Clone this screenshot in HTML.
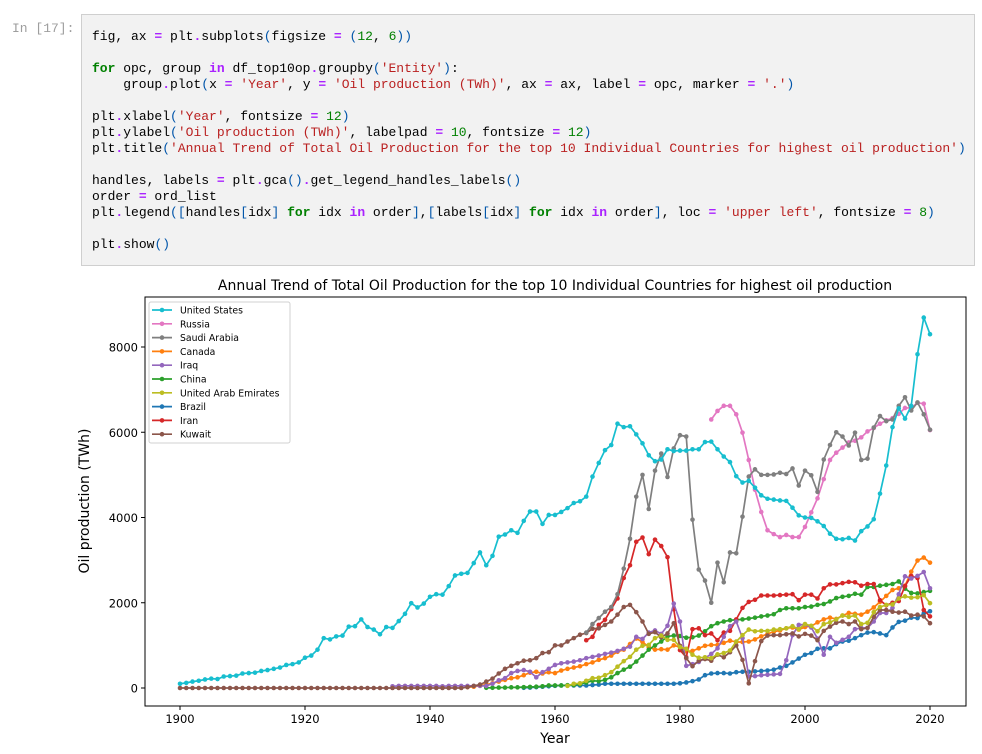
<!DOCTYPE html>
<html><head><meta charset="utf-8"><style>
body{margin:0;background:#fff;width:982px;height:754px;overflow:hidden;position:relative;font-family:"Liberation Sans",sans-serif}
.prompt{position:absolute;left:12px;top:21px;font:13px "Liberation Mono",monospace;color:#9e9e9e}
.cell{position:absolute;left:81px;top:14px;width:892px;height:250px;background:#f2f2f2;border:1px solid #cfcfcf}
pre{margin:0;position:absolute;left:10px;top:14px;font:13px/16px "Liberation Mono",monospace;color:#000}
.k{color:#008000;font-weight:bold}.s{color:#ba2121}.o{color:#aa22ff;font-weight:bold}.n{color:#008000}.p{color:#0055aa}
</style></head><body>
<div class="prompt">In [17]:</div>
<div class="cell"><pre>fig, ax <span class="o">=</span> plt<span class="o">.</span>subplots<span class="p">(</span>figsize <span class="o">=</span> <span class="p">(</span><span class="n">12</span>, <span class="n">6</span><span class="p">))</span>

<span class="k">for</span> opc, group <span class="o">in</span> df_top10op<span class="o">.</span>groupby<span class="p">(</span><span class="s">'Entity'</span><span class="p">)</span>:
    group<span class="o">.</span>plot<span class="p">(</span>x <span class="o">=</span> <span class="s">'Year'</span>, y <span class="o">=</span> <span class="s">'Oil production (TWh)'</span>, ax <span class="o">=</span> ax, label <span class="o">=</span> opc, marker <span class="o">=</span> <span class="s">'.'</span><span class="p">)</span>

plt<span class="o">.</span>xlabel<span class="p">(</span><span class="s">'Year'</span>, fontsize <span class="o">=</span> <span class="n">12</span><span class="p">)</span>
plt<span class="o">.</span>ylabel<span class="p">(</span><span class="s">'Oil production (TWh)'</span>, labelpad <span class="o">=</span> <span class="n">10</span>, fontsize <span class="o">=</span> <span class="n">12</span><span class="p">)</span>
plt<span class="o">.</span>title<span class="p">(</span><span class="s">'Annual Trend of Total Oil Production for the top 10 Individual Countries for highest oil production'</span><span class="p">)</span>

handles, labels <span class="o">=</span> plt<span class="o">.</span>gca<span class="p">()</span><span class="o">.</span>get_legend_handles_labels<span class="p">()</span>
order <span class="o">=</span> ord_list
plt<span class="o">.</span>legend<span class="p">([</span>handles<span class="p">[</span>idx<span class="p">]</span> <span class="k">for</span> idx <span class="o">in</span> order<span class="p">]</span>,<span class="p">[</span>labels<span class="p">[</span>idx<span class="p">]</span> <span class="k">for</span> idx <span class="o">in</span> order<span class="p">]</span>, loc <span class="o">=</span> <span class="s">'upper left'</span>, fontsize <span class="o">=</span> <span class="n">8</span><span class="p">)</span>

plt<span class="o">.</span>show<span class="p">()</span></pre></div>
<svg id="chart" style="position:absolute;left:0;top:0" width="982" height="754"></svg>
<script>
const years0 = 1900;
const xTicks = [1900, 1920, 1940, 1960, 1980, 2000, 2020];
const yTicks = [0, 2000, 4000, 6000, 8000];
const seriesNames = ["Brazil","Canada","China","Iran","Iraq","Kuwait","Russia","Saudi Arabia","United Arab Emirates","United States"];
const legendOrder = ["United States","Russia","Saudi Arabia","Canada","Iraq","China","United Arab Emirates","Brazil","Iran","Kuwait"];
const startBrazil = 1955;
const brazil = [5,10,20,30,40,50,60,60,60,60,60,70,80,100,100,100,100,100,100,100,100,100,100,100,100,110,130,160,200,300,340,350,350,340,370,380,380,390,400,410,430,480,520,600,690,780,820,920,930,930,1030,1090,1110,1170,1240,1300,1310,1280,1240,1420,1550,1580,1650,1640,1750,1800];
const startCanada = 1946;
const canada = [20,30,50,80,110,150,190,230,250,300,360,380,340,370,350,410,450,480,510,560,600,660,700,760,850,900,1030,1160,1080,960,900,910,900,1000,960,860,870,930,990,1010,1010,1060,1110,1080,1080,1090,1140,1210,1270,1320,1350,1400,1420,1370,1430,1450,1540,1610,1650,1620,1700,1760,1740,1720,1790,1890,2020,2160,2300,2340,2400,2730,2990,3060,2940];
const startChina = 1949;
const china = [5,5,10,10,15,15,20,25,30,40,60,60,60,65,70,90,130,170,160,190,250,350,430,500,620,760,900,1000,1090,1210,1230,1220,1180,1190,1230,1330,1450,1520,1560,1590,1600,1610,1630,1650,1680,1700,1730,1830,1870,1870,1870,1900,1910,1950,1970,2030,2110,2140,2160,2210,2190,2370,2370,2400,2420,2440,2500,2330,2230,2220,2250,2280];
const startIran = 1965;
const iran = [1120,1200,1480,1600,1850,2100,2580,2880,3430,3530,3140,3480,3330,3070,1850,890,720,1380,1400,1240,1280,1120,1300,1340,1610,1880,2020,2070,2170,2170,2170,2180,2190,2200,2060,2190,2190,2100,2340,2430,2430,2460,2490,2480,2400,2440,2440,2060,1940,2000,2040,2390,2630,2580,1830,1680];
const startIraq = 1934;
const iraq = [40,50,50,50,50,50,50,50,40,50,50,50,50,50,50,50,100,180,230,350,400,420,380,250,370,450,540,580,600,620,650,700,730,760,800,830,870,920,970,1200,1150,1300,1350,1270,1460,1980,1560,520,560,610,700,800,930,1200,1450,1560,1170,270,280,300,310,320,330,650,1240,1480,1490,1420,1160,780,1200,1060,1130,1200,1380,1410,1410,1560,1760,1760,1880,2200,2620,2570,2630,2720,2340];
const startKuwait = 1900;
const kuwait = [0,0,0,0,0,0,0,0,0,0,0,0,0,0,0,0,0,0,0,0,0,0,0,0,0,0,0,0,0,0,0,0,0,0,0,0,0,0,0,0,0,0,0,0,0,0,20,50,80,150,220,340,450,520,580,640,650,700,820,840,1000,1000,1090,1170,1250,1290,1390,1400,1480,1560,1720,1900,1950,1780,1560,1270,1310,1190,1280,1520,990,700,510,640,680,640,780,720,840,1000,660,110,630,1100,1230,1240,1240,1260,1280,1210,1270,1230,1120,1340,1440,1530,1560,1500,1560,1380,1410,1670,1830,1830,1790,1770,1790,1700,1720,1680,1520];
const startRussia = 1985;
const russia = [6300,6500,6620,6620,6420,5990,5350,4650,4130,3700,3610,3540,3590,3540,3540,3780,4120,4450,4900,5350,5520,5640,5760,5800,5880,6020,6100,6200,6280,6330,6430,6570,6570,6690,6670,6050];
const startSaudi = 1965;
const saudi = [1300,1500,1640,1790,1900,2200,2800,3500,4490,5000,4200,5100,5500,4950,5620,5930,5900,3950,2780,2520,2000,2940,2480,3180,3160,4020,4960,5130,5000,5000,5010,5050,5020,5150,4750,5100,4990,4600,5360,5700,6000,5900,5690,5990,5350,5380,6110,6380,6260,6300,6620,6820,6510,6700,6420,6060];
const startUAE = 1962;
const uae = [50,100,110,170,230,240,300,370,500,630,730,900,990,1010,1170,1230,1130,1130,960,920,780,710,720,700,790,820,880,1090,1240,1370,1330,1340,1340,1370,1380,1400,1450,1380,1500,1460,1330,1500,1540,1610,1700,1670,1700,1500,1530,1780,1900,1950,1960,2100,2150,2120,2130,2180,1990];
const startUS = 1900;
const us = [100,120,150,170,200,220,210,270,280,290,340,350,360,400,420,450,480,540,560,600,710,760,900,1170,1140,1210,1230,1440,1450,1610,1430,1370,1260,1430,1410,1570,1740,1990,1890,1980,2140,2200,2190,2390,2640,2680,2700,2930,3180,2880,3100,3550,3600,3700,3640,3920,4140,4140,3850,4060,4060,4130,4220,4340,4380,4490,4960,5280,5580,5700,6200,6120,6140,5950,5740,5460,5320,5360,5600,5560,5570,5570,5600,5600,5770,5780,5600,5430,5300,4970,4820,4860,4700,4520,4440,4420,4400,4390,4230,4050,4000,3990,3910,3800,3620,3500,3490,3520,3460,3680,3790,3960,4560,5220,6120,6560,6320,6620,7830,8690,8300];

const seriesData = {"Brazil":[startBrazil,brazil],"Canada":[startCanada,canada],"China":[startChina,china],"Iran":[startIran,iran],"Iraq":[startIraq,iraq],"Kuwait":[startKuwait,kuwait],"Russia":[startRussia,russia],"Saudi Arabia":[startSaudi,saudi],"United Arab Emirates":[startUAE,uae],"United States":[startUS,us]};
const colors = {"Brazil":"#1f77b4","Canada":"#ff7f0e","China":"#2ca02c","Iran":"#d62728","Iraq":"#9467bd","Kuwait":"#8c564b","Russia":"#e377c2","Saudi Arabia":"#7f7f7f","United Arab Emirates":"#bcbd22","United States":"#17becf"};

const FONT='DejaVu Sans, Liberation Sans, sans-serif';
const L=145,R=966,T=297,B=706;
const xS = yr => 180 + (yr-1900)*6.25;
const yS = v => 688 - v*0.042625;
const NS="http://www.w3.org/2000/svg";
const svg=document.getElementById('chart');
function mk(tag,attrs,parent){const e=document.createElementNS(NS,tag);for(const k in attrs)e.setAttribute(k,attrs[k]);(parent||svg).appendChild(e);return e;}

const t=mk('text',{x:555,y:290,'text-anchor':'middle','font-size':'14','font-family':FONT,fill:'#000'});


t.textContent='Annual Trend of Total Oil Production for the top 10 Individual Countries for highest oil production';

const cp=mk('clipPath',{id:'clp'});
mk('rect',{x:L,y:T,width:R-L,height:B-T},cp);

const plot=mk('g',{});



seriesNames.forEach(name=>{
  const [st,vals]=seriesData[name];
  const g=mk('g',{'clip-path':'url(#clp)'},plot);
  
  
  const pts=vals.map((v,i)=>xS(st+i).toFixed(2)+','+yS(v).toFixed(2)).join(' ');
  const pl=mk('polyline',{points:pts,fill:'none',stroke:colors[name],'stroke-width':1.7,'stroke-linejoin':'round'},g);
  
  
  vals.forEach((v,i)=>{
    const c=mk('circle',{cx:xS(st+i),cy:yS(v),r:2.3,fill:colors[name]},g);
    
    
  });
});

const frame=mk('rect',{x:L,y:T,width:R-L,height:B-T,fill:'none',stroke:'#000','stroke-width':1});



xTicks.forEach(v=>{
  const x=xS(v);
  const tk=mk('line',{x1:x,x2:x,y1:B,y2:B+4,stroke:'#000'});
  
  
  const lb=mk('text',{x:x,y:B+17,'text-anchor':'middle','font-size':'11.5','font-family':FONT});
  
  
  lb.textContent=v;
});
yTicks.forEach(v=>{
  const y=yS(v);
  const tk=mk('line',{x1:L-4,x2:L,y1:y,y2:y,stroke:'#000'});
  
  
  const lb=mk('text',{x:L-7,y:y+4.5,'text-anchor':'end','font-size':'11.5','font-family':FONT});
  
  
  lb.textContent=v;
});
const xl=mk('text',{x:555,y:743,'text-anchor':'middle','font-size':'14','font-family':FONT});


xl.textContent='Year';
const yl=mk('text',{x:89,y:501,'text-anchor':'middle','font-size':'14','font-family':FONT,transform:'rotate(-90 89 501)'});


yl.textContent='Oil production (TWh)';

const lg=mk('g',{});


mk('rect',{x:149,y:302,width:141,height:141,rx:2,fill:'#fff','fill-opacity':0.8,stroke:'#d0d0d0'},lg);
legendOrder.forEach((name,i)=>{
  const y=310+i*13.8;
  const e=mk('g',{},lg);
  
  
  mk('line',{x1:152,x2:172,y1:y,y2:y,stroke:colors[name],'stroke-width':1.7},e);
  mk('circle',{cx:162,cy:y,r:2.3,fill:colors[name]},e);
  const tx=mk('text',{x:180,y:y+3.5,'font-size':'9.3','font-family':FONT},e);
  tx.textContent=name;
});
</script>
</body></html>
